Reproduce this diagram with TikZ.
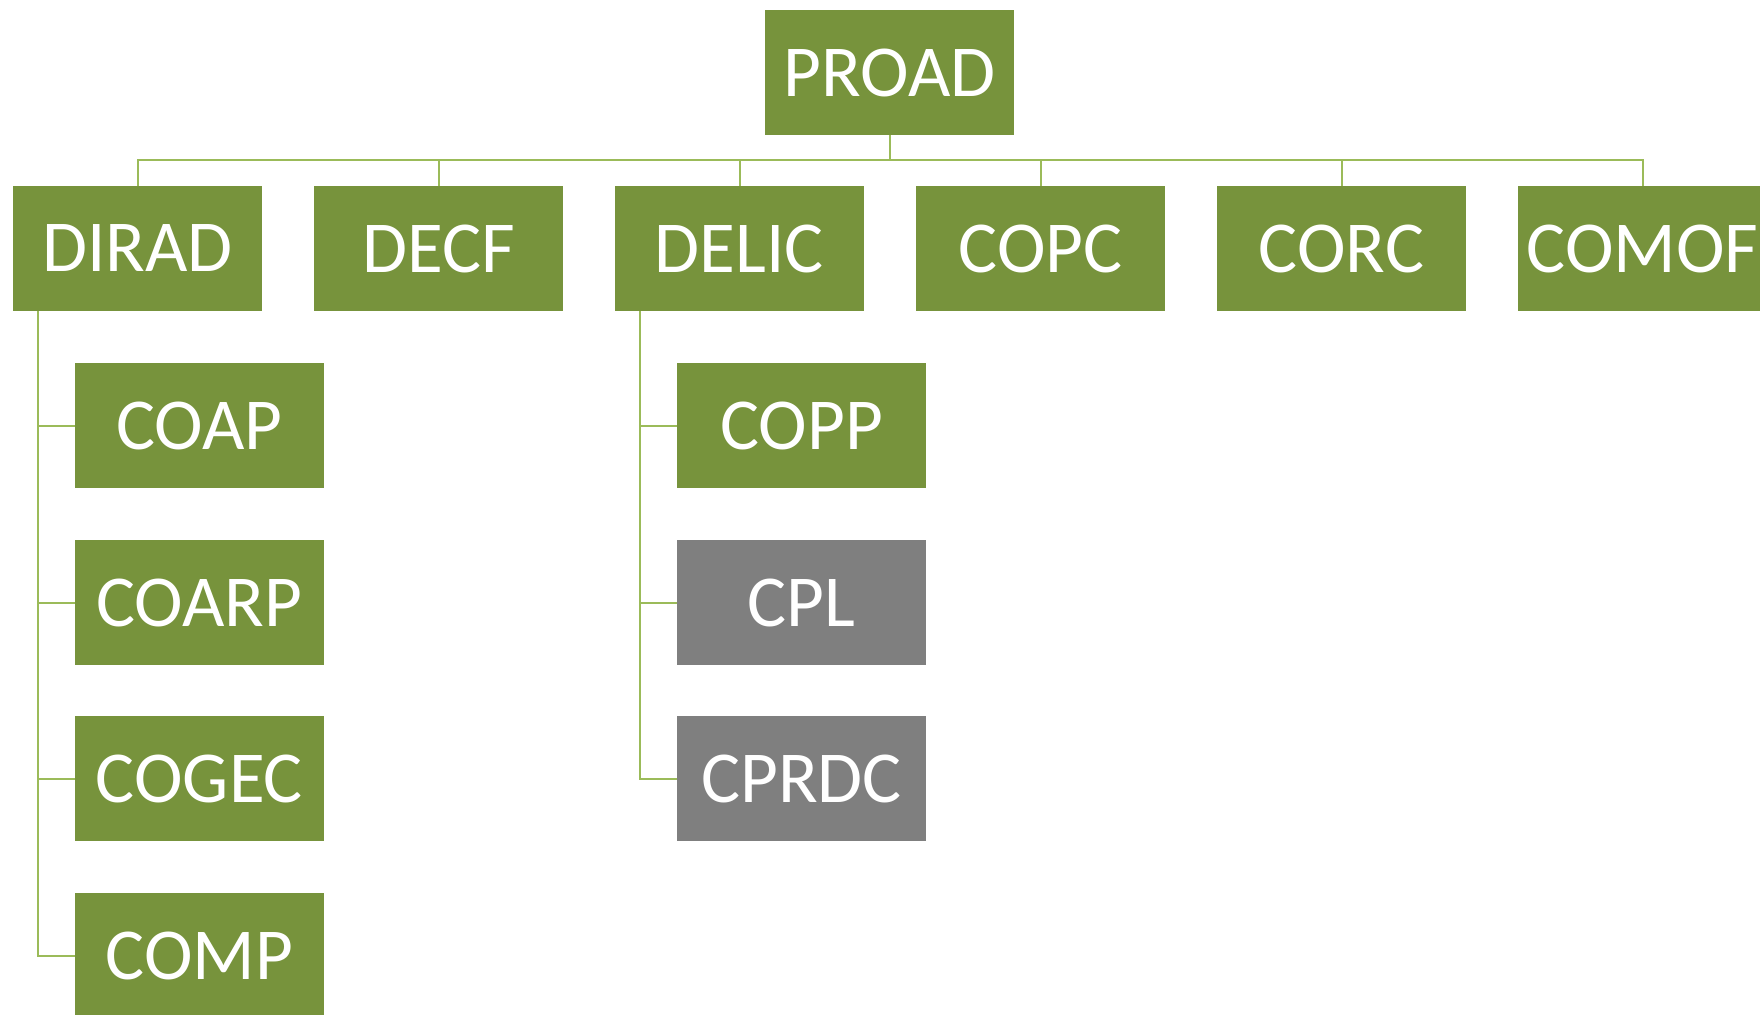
\documentclass[tikz,border=0pt]{standalone}
\usepackage{fontspec}
\setmainfont{Carlito}
\definecolor{boxgreen}{HTML}{77933C}
\definecolor{linegreen}{HTML}{9BBB59}
\definecolor{boxgray}{HTML}{7F7F7F}
\begin{document}
\begin{tikzpicture}[x=1bp,y=-1bp,
  orgbox/.style={fill=boxgreen,draw=none,minimum width=249bp,minimum height=125bp,inner sep=0pt,
    text=white,font=\fontsize{73.5}{80}\selectfont},
  graybox/.style={orgbox,fill=boxgray},
  link/.style={draw=linegreen,line width=2bp}]
\useasboundingbox (0,0) rectangle (1760,1014);
\clip (0,0) rectangle (1760,1014);
% top
\node[orgbox] (proad) at (889.5,72.5) {PROAD};
% level 1
\node[orgbox] (dirad) at (137.5,248.5) {DIRAD};
\node[orgbox] (decf)  at (438.5,248.5) {DECF};
\node[orgbox] (delic) at (739.5,248.5) {DELIC};
\node[orgbox] (copc)  at (1040.5,248.5) {COPC};
\node[orgbox] (corc)  at (1341.5,248.5) {CORC};
\node[orgbox] (comof) at (1642.5,248.5) {COMOF};
% DIRAD children
\node[orgbox] (coap)  at (199.5,425.5) {COAP};
\node[orgbox] (coarp) at (199.5,602.5) {COARP};
\node[orgbox] (cogec) at (199.5,778.5) {COGEC};
\node[orgbox] (comp)  at (199.5,955.5) {COMP};
% DELIC children
\node[orgbox]  (copp)  at (801.5,425.5) {COPP};
\node[graybox] (cpl)   at (801.5,602.5) {CPL};
\node[graybox] (cprdc) at (801.5,778.5) {CPRDC};
% connectors top
\coordinate (bus) at (889.5,160);
\draw[link] (proad.south) -- (bus);
\draw[link] (dirad.north) |- (bus) -| (comof.north);
\foreach \n in {decf,delic,copc,corc}{\draw[link] (\n.north) -- (\n.north |- bus);}
% DIRAD children connectors
\coordinate (dtrunk) at ([xshift=25bp]dirad.south west);
\draw[link] (dtrunk) |- (comp.west);
\foreach \n in {coap,coarp,cogec}{\draw[link] (\n.west) -- (\n.west -| dtrunk);}
% DELIC children connectors
\coordinate (etrunk) at ([xshift=25bp]delic.south west);
\draw[link] (etrunk) |- (cprdc.west);
\foreach \n in {copp,cpl}{\draw[link] (\n.west) -- (\n.west -| etrunk);}
\end{tikzpicture}
\end{document}
